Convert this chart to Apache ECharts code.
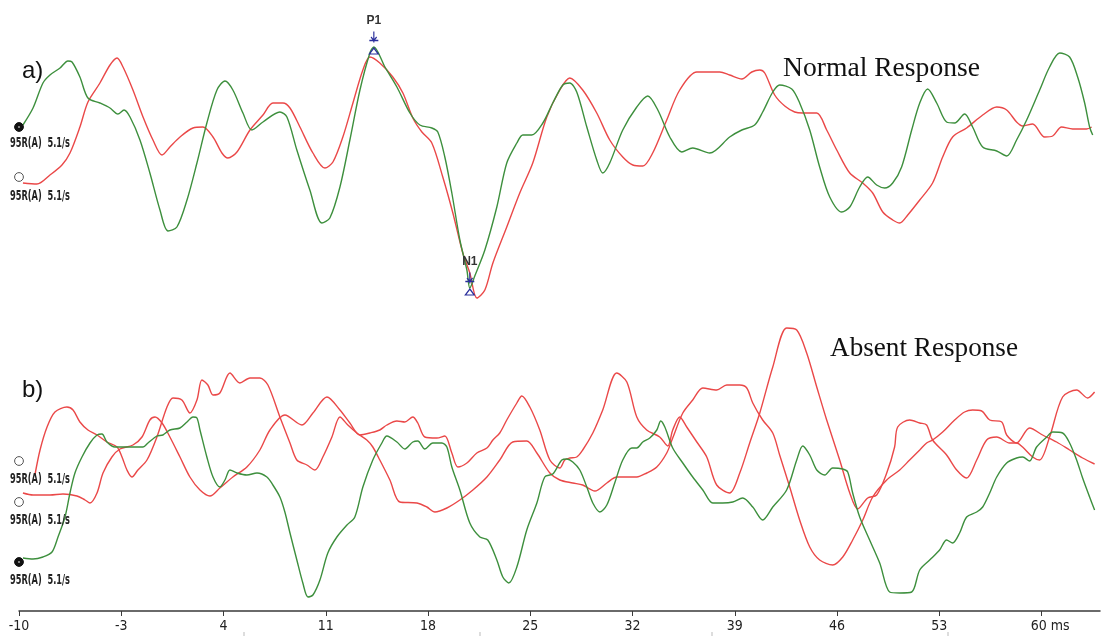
<!DOCTYPE html>
<html><head><meta charset="utf-8">
<script src="https://cdn.jsdelivr.net/npm/echarts@6/dist/echarts.min.js"></script>
<style>html,body{margin:0;padding:0;background:#fff}#c{width:1107px;height:636px}</style>
</head><body><div id="c"></div>
<script>
// ---- data (time in ms, amplitude in arbitrary units) ----
const tickValues = [-10,-3,4,11,18,25,32,39,46,53,60];
const timeRange = [-10, 64];
const traceLabel = '95R(A)  5.1/s';
const panelTitles = ['Normal Response', 'Absent Response'];
const panelLetters = ['a)', 'b)'];
const peakP1 = [14.29, 11.3];
const peakN1 = [20.86, -12.8];

const aGreen = [[-9.73,3.5],[-9.04,5.2],[-8.36,7.7],[-7.88,8.5],[-7.19,9.2],[-6.65,9.9],[-6.37,9.8],[-5.83,8.3],[-5.28,6.2],[-4.46,5.7],[-3.77,5.2],[-3.23,4.6],[-2.81,5.0],[-2.40,4.3],[-1.72,2.0],[-1.04,-1.3],[-0.35,-5.0],[0.20,-7.1],[0.81,-6.7],[1.50,-4.0],[2.18,-0.3],[2.86,3.7],[3.55,7.0],[4.10,7.9],[4.64,7.0],[5.33,4.7],[5.94,3.0],[6.70,3.8],[7.86,4.8],[8.34,4.3],[9.02,1.0],[9.91,-3.0],[10.73,-6.3],[11.28,-5.8],[11.97,-2.7],[12.65,2.0],[13.34,7.0],[14.02,10.7],[14.29,11.3],[15.05,9.3],[15.87,7.3],[16.76,4.7],[17.44,3.5],[18.26,3.2],[18.67,2.8],[19.15,0.3],[19.63,-3.3],[20.18,-8.0],[20.66,-11.0],[20.86,-12.8],[21.20,-11.6],[21.89,-9.0],[22.71,-4.7],[23.39,-0.3],[24.08,1.7],[24.49,2.5],[25.10,2.5],[25.86,3.7],[26.54,5.7],[27.23,7.5],[27.70,7.7],[28.18,6.8],[28.87,3.3],[29.55,0.0],[29.96,-1.3],[30.44,-0.3],[31.33,3.0],[32.29,5.3],[33.04,6.4],[33.73,5.0],[34.55,2.3],[35.37,0.8],[36.12,1.2],[37.29,0.7],[38.65,2.3],[39.48,3.0],[40.36,3.5],[40.91,4.8],[41.60,6.8],[42.07,7.5],[42.90,7.1],[43.44,5.7],[44.13,3.0],[44.81,-0.7],[45.50,-3.7],[46.32,-5.2],[46.87,-4.7],[47.55,-2.7],[48.10,-1.7],[48.71,-2.5],[49.26,-2.8],[49.81,-2.3],[50.42,-0.7],[51.11,3.0],[51.66,5.7],[52.20,7.1],[52.82,5.7],[53.50,3.8],[54.05,3.7],[54.73,4.6],[55.28,3.3],[55.97,1.3],[56.93,0.9],[57.61,0.4],[58.29,2.0],[58.98,4.0],[59.87,7.0],[60.55,9.3],[61.24,10.7],[61.92,10.3],[62.47,8.3],[62.95,5.7],[63.29,3.3],[63.50,2.5]];

const aRed = [[-9.73,-2.3],[-8.77,-2.4],[-7.88,-1.5],[-7.06,-0.5],[-6.51,0.7],[-5.83,3.3],[-5.28,5.8],[-4.46,7.7],[-3.77,9.5],[-3.29,10.2],[-2.88,9.3],[-2.20,7.0],[-1.51,4.3],[-0.83,2.0],[-0.21,0.5],[0.33,1.3],[1.02,2.3],[1.91,3.2],[2.59,3.3],[3.28,2.3],[3.89,0.7],[4.30,0.2],[4.92,0.8],[5.81,3.0],[6.70,4.5],[7.38,5.7],[8.07,5.7],[8.55,5.2],[9.23,3.3],[10.12,0.7],[10.94,-0.8],[11.49,-0.2],[12.17,2.3],[12.86,5.7],[13.54,9.0],[14.02,10.3],[14.70,9.7],[15.59,8.3],[16.28,6.7],[16.96,4.2],[17.58,2.8],[18.26,1.7],[19.01,-1.7],[19.70,-5.3],[20.38,-9.3],[20.86,-11.3],[21.34,-13.8],[21.89,-13.0],[22.44,-10.3],[23.39,-6.7],[24.28,-3.3],[25.17,-0.3],[26.13,4.3],[27.02,7.0],[27.70,8.2],[28.59,7.0],[29.55,4.7],[30.44,2.0],[31.33,0.3],[32.02,-0.5],[32.70,-0.6],[33.38,0.7],[34.34,4.0],[35.23,7.0],[36.40,8.8],[37.97,8.8],[38.65,8.5],[39.48,8.1],[40.16,8.8],[40.71,9.0],[41.05,8.7],[41.73,6.5],[42.42,5.4],[43.10,4.8],[43.65,4.7],[44.61,4.7],[45.29,3.0],[45.98,1.0],[46.87,-1.3],[47.76,-2.3],[48.44,-3.3],[49.13,-5.2],[49.81,-6.0],[50.29,-6.3],[50.84,-5.5],[51.66,-4.0],[52.54,-2.3],[53.23,0.3],[53.91,2.3],[54.87,3.2],[55.97,4.5],[56.93,5.3],[57.61,5.0],[58.29,3.8],[58.70,3.4],[59.39,3.6],[60.21,2.3],[60.76,2.4],[61.37,3.3],[62.13,3.1],[63.08,3.1],[63.43,3.3]];

const bRed1 = [[-8.91,0.5],[-8.56,3.0],[-8.08,5.3],[-7.54,6.8],[-6.72,7.3],[-6.30,7.0],[-5.83,5.8],[-5.28,5.0],[-4.66,4.5],[-3.98,3.8],[-3.29,3.3],[-2.95,2.3],[-2.61,1.0],[-2.27,0.3],[-1.86,1.0],[-1.24,2.0],[-0.56,4.3],[0.13,7.3],[0.54,8.2],[1.15,8.0],[1.70,6.7],[2.18,8.0],[2.52,10.0],[2.93,9.5],[3.28,8.5],[3.75,8.7],[4.44,10.7],[5.12,9.7],[5.81,10.2],[6.49,10.2],[7.04,9.5],[7.86,6.3],[8.55,3.7],[9.02,2.0],[9.71,1.5],[10.26,1.0],[10.80,2.3],[11.42,4.3],[11.97,6.3],[12.51,5.5],[13.13,4.7],[13.81,4.0],[14.22,3.3],[14.70,2.0],[15.39,0.0],[16.07,-2.2],[17.24,-2.3],[17.92,-2.7],[18.47,-3.2],[19.29,-2.8],[20.18,-2.0],[21.07,-1.0],[22.03,0.3],[22.91,2.0],[23.80,3.8],[24.76,3.9],[25.45,2.7],[26.34,0.7],[27.02,0.0],[27.91,-0.3],[28.59,-0.5],[29.42,-1.1],[30.24,-0.3],[30.92,0.3],[31.61,0.3],[32.29,0.3],[32.97,0.7],[33.66,1.3],[34.34,2.7],[34.75,4.2],[35.44,6.7],[36.12,8.0],[36.81,9.2],[37.76,9.0],[38.45,9.5],[39.34,9.5],[39.82,9.2],[40.23,7.7],[40.91,6.0],[41.60,4.7],[42.07,2.5],[42.76,-0.7],[43.44,-4.0],[44.13,-6.7],[44.81,-8.0],[45.70,-8.5],[46.39,-7.7],[47.07,-6.0],[47.76,-4.0],[48.44,-1.7],[49.40,0.0],[50.29,1.0],[50.97,2.0],[51.66,3.0],[52.13,3.7],[52.54,4.0],[53.23,4.8],[54.05,6.0],[54.73,6.8],[55.28,7.0],[55.90,6.9],[56.45,6.0],[57.27,5.8],[57.61,4.5],[58.29,3.7],[59.18,5.2],[60.07,4.5],[61.03,3.8],[61.92,3.0],[62.81,2.2],[63.63,1.6]];

const bRed2 = [[-9.73,-1.3],[-9.04,-1.5],[-7.88,-1.5],[-6.99,-1.4],[-6.03,-1.6],[-5.48,-2.0],[-5.14,-2.3],[-4.66,-1.3],[-4.25,0.7],[-3.64,2.3],[-3.09,3.1],[-2.20,3.5],[-1.58,4.3],[-1.04,6.0],[-0.69,6.3],[-0.21,5.7],[0.33,4.3],[1.02,2.3],[1.70,0.3],[2.39,-1.0],[3.07,-1.6],[3.75,-0.8],[4.64,0.3],[5.60,1.3],[6.49,3.0],[7.18,5.0],[8.20,6.5],[9.37,5.5],[10.12,6.7],[11.08,8.3],[11.97,7.0],[12.65,5.7],[13.34,4.5],[14.02,4.7],[14.70,5.0],[15.18,5.5],[15.87,5.9],[16.41,5.8],[16.96,6.3],[17.30,5.7],[17.78,4.3],[18.60,4.2],[19.15,4.4],[19.63,2.7],[20.04,1.3],[20.66,1.7],[21.34,2.7],[22.03,3.2],[22.44,4.0],[22.91,4.7],[23.39,6.0],[24.08,7.7],[24.42,8.4],[24.97,7.3],[25.65,5.0],[26.34,2.0],[27.02,1.2],[27.36,2.0],[27.70,2.2],[28.18,2.3],[28.59,3.0],[29.28,4.7],[29.96,7.0],[30.92,10.7],[31.61,9.8],[32.29,6.3],[32.97,5.0],[33.86,4.3],[34.41,3.4],[34.75,5.0],[35.23,6.3],[35.71,5.3],[36.40,3.8],[37.08,2.3],[37.76,-0.5],[38.65,-1.3],[39.34,0.7],[40.02,3.7],[40.71,6.7],[41.60,11.3],[42.55,15.2],[43.24,15.0],[43.92,12.7],[44.61,9.3],[45.29,6.0],[46.18,2.0],[46.87,-1.3],[47.41,-2.9],[48.10,-1.8],[48.71,-1.5],[49.40,0.7],[49.94,3.3],[50.15,5.3],[50.97,6.0],[51.66,5.7],[52.13,5.5],[52.54,4.0],[53.50,2.5],[54.19,1.0],[54.87,0.2],[55.56,2.0],[56.24,4.0],[56.93,4.3],[57.81,3.7],[58.29,3.7],[58.70,3.3],[59.39,2.3],[59.87,2.0],[60.55,4.3],[61.44,8.3],[62.40,9.0],[63.15,8.2],[63.63,8.8]];

const bGreen = [[-9.73,-7.8],[-9.04,-7.9],[-8.36,-7.7],[-7.74,-7.2],[-7.33,-5.7],[-6.85,-3.7],[-6.51,-1.3],[-6.17,0.7],[-5.69,2.3],[-5.14,3.7],[-4.66,4.5],[-4.32,4.6],[-3.98,3.8],[-3.43,3.3],[-2.88,3.3],[-2.20,3.3],[-1.51,3.3],[-1.17,3.7],[-0.56,4.4],[-0.15,4.5],[0.33,5.0],[1.02,5.2],[1.50,5.8],[1.91,6.3],[2.18,6.2],[2.39,5.0],[2.86,2.3],[3.28,0.3],[3.75,-0.7],[4.10,0.0],[4.44,1.0],[4.92,0.7],[5.60,0.5],[6.29,0.7],[6.97,0.3],[7.38,-0.5],[7.86,-1.7],[8.20,-3.2],[8.55,-5.3],[9.02,-8.0],[9.43,-10.3],[9.78,-11.7],[10.12,-11.5],[10.60,-10.0],[11.14,-7.3],[11.76,-5.7],[12.45,-4.5],[12.99,-3.7],[13.54,-0.7],[14.22,2.0],[14.84,3.7],[15.18,4.4],[15.87,3.8],[16.41,3.1],[16.96,3.8],[17.30,3.9],[17.78,3.1],[18.33,3.7],[18.95,3.7],[19.29,3.3],[19.63,1.3],[20.18,-1.0],[20.86,-4.3],[21.55,-5.7],[22.09,-6.0],[22.71,-8.0],[23.12,-9.7],[23.53,-10.3],[24.08,-8.7],[24.76,-5.0],[25.45,-2.3],[25.99,0.3],[26.54,0.6],[27.16,2.0],[27.50,2.1],[27.91,1.8],[28.39,1.0],[28.87,-0.7],[29.28,-2.3],[29.76,-3.2],[30.24,-2.5],[30.78,-0.3],[31.33,2.0],[31.95,3.2],[32.29,3.2],[32.70,3.8],[33.18,4.2],[33.66,5.0],[33.93,5.9],[34.21,5.3],[34.75,3.2],[35.44,1.7],[36.12,0.3],[36.81,-1.0],[37.49,-2.3],[38.17,-2.3],[38.86,-2.2],[39.54,-1.8],[40.23,-2.7],[40.91,-4.0],[41.60,-2.7],[42.55,-1.0],[43.24,2.0],[43.65,3.4],[44.13,2.5],[44.61,1.0],[45.16,0.5],[45.70,1.2],[46.39,1.1],[46.73,0.8],[47.07,-1.3],[47.55,-3.7],[48.23,-6.0],[48.92,-8.3],[49.60,-11.2],[50.29,-11.3],[51.11,-11.2],[51.66,-9.0],[52.34,-8.0],[53.02,-7.0],[53.50,-6.0],[53.91,-6.3],[54.39,-5.3],[54.87,-3.7],[55.56,-3.2],[55.97,-2.7],[56.45,-1.3],[56.93,0.3],[57.61,1.7],[58.29,2.2],[58.70,2.3],[59.18,1.9],[59.66,3.3],[60.35,4.3],[60.76,4.8],[61.44,4.7],[61.92,3.7],[62.40,2.0],[62.81,0.2],[63.29,-1.7],[63.63,-3.0]];

// ---- styling ----
const GREEN = '#3d8f3d', RED = '#ea4848', NAVY = '#2a2f9c';
const NARROW = "'Liberation Sans Narrow','Arial Narrow','DejaVu Sans Condensed','Roboto Condensed',sans-serif";
const SANS = "'Liberation Sans',Arial,sans-serif";

const chart = echarts.init(document.getElementById('c'), null, {renderer:'canvas'});
const measureCtx = document.createElement('canvas').getContext('2d');
function fitText(text, x, yMid, w, font, fill, sy) {
  measureCtx.font = font;
  const m = measureCtx.measureText(text).width || w;
  return {type:'text', x:x, y:yMid, scaleX: w/m, scaleY: sy || 1, z: 10,
    style:{text:text, font:font, fill:fill, align:'left', verticalAlign:'middle'}};
}
const ARROW = 'path://M4,0 L4,11 M0,9 L8,9 M1.5,5.5 L4,9 L6.5,5.5';
function marker(coord, name) {
  return [
    {coord: coord, symbol:'triangle', symbolSize:[9,6], symbolOffset:[0,4],
     itemStyle:{color:'rgba(255,255,255,0)', borderColor:NAVY, borderWidth:1.2}, label:{show:false}},
    {coord: coord, symbol: ARROW, symbolSize:[9,11], symbolOffset:[0,-10],
     itemStyle:{color:'rgba(255,255,255,0)', borderColor:NAVY, borderWidth:1.3},
     label:{show:true, position:'top', distance:4, formatter:name, color:'#333',
            fontSize:12, fontWeight:'bold', fontFamily:SANS}}
  ];
}
function line(data, color, xi, extra) {
  return Object.assign({type:'line', data:data, xAxisIndex:xi, yAxisIndex:xi, showSymbol:false,
    smooth:0.3, lineStyle:{color:color, width:1.4}, itemStyle:{color:color}, silent:true, z:3}, extra||{});
}

const option = {
  backgroundColor:'#fff',
  animation:false,
  grid:[{left:19, right:7, top:20, height:300}, {left:19, right:7, top:320, height:291}],
  xAxis:[
    {gridIndex:0, type:'value', min:timeRange[0], max:timeRange[1], show:false},
    {gridIndex:1, type:'value', min:timeRange[0], max:timeRange[1],
     axisLine:{show:true, onZero:false, lineStyle:{color:'#3a3a3a', width:1.5}},
     axisTick:{show:true, length:5, customValues:tickValues, lineStyle:{color:'#3a3a3a', width:1}},
     axisLabel:{customValues:tickValues, margin:8, color:'#222', fontSize:14, fontFamily:NARROW,
       formatter: v => v === 60 ? '{n|60}{u| ms}' : String(v),
       rich:{n:{padding:[0,0,0,17], fontSize:14, fontFamily:NARROW, color:'#222'},
             u:{fontSize:14, fontFamily:NARROW, color:'#222'}}},
     splitLine:{show:false}}
  ],
  yAxis:[
    {gridIndex:0, type:'value', min:-16, max:14, show:false},
    {gridIndex:1, type:'value', min:-13.1, max:16, show:false}
  ],
  series:[
    line(aRed, RED, 0),
    line(aGreen, GREEN, 0, {markPoint:{silent:true, data: marker(peakP1,'P1').concat(marker(peakN1,'N1'))}}),
    line(bRed1, RED, 1),
    line(bRed2, RED, 1),
    line(bGreen, GREEN, 1)
  ],
  graphic:[]
};
chart.setOption(option);

const LABFONT = "bold 11px " + NARROW;
const g = [];
// trace identifiers on the left
const ids = [[127,143,true],[177,196,false],[461,479,false],[502,520,false],[562,580,true]];
ids.forEach(([cy, ly, filled]) => {
  g.push({type:'circle', shape:{cx:19, cy:cy, r:4.4}, z:10,
    style: filled ? {fill:'#111', stroke:'#111', lineWidth:1} : {fill:'#fff', stroke:'#555', lineWidth:1}});
  if (filled) g.push({type:'circle', shape:{cx:19, cy:cy, r:1.1}, z:11, style:{fill:'#999'}});
  g.push(fitText(traceLabel, 10, ly, 60, LABFONT, '#222', 1.25));
});
g.push({type:'text', x:22, y:71, z:10, style:{text:panelLetters[0], font:"24px " + SANS, fill:'#111', align:'left', verticalAlign:'middle'}});
g.push({type:'text', x:22, y:390, z:10, style:{text:panelLetters[1], font:"24px " + SANS, fill:'#111', align:'left', verticalAlign:'middle'}});
g.push(fitText(panelTitles[0], 783, 69, 197, "28px 'Liberation Serif','Times New Roman',serif", '#111'));
g.push(fitText(panelTitles[1], 830, 349, 188, "28px 'Liberation Serif','Times New Roman',serif", '#111'));
// faint stub marks along the bottom edge of the figure
[244, 480, 712, 948].forEach(x => g.push({type:'line', shape:{x1:x, y1:632, x2:x, y2:636}, style:{stroke:'#bbb', lineWidth:1}, z:1}));
chart.setOption({graphic:g});
</script></body></html>
